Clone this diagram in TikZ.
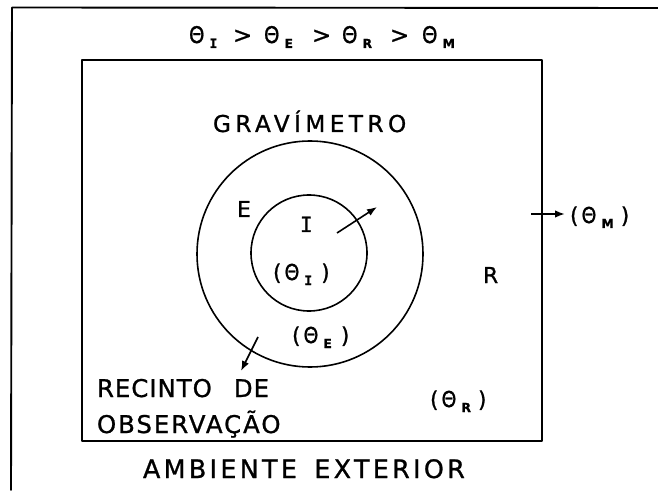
\documentclass[tikz,border=0pt]{standalone}
\usepackage{fontspec}
\setmainfont{DejaVu Sans}
\newfontfamily\lab{DejaVu Sans}[FakeBold=1]
\newfontfamily\monof{DejaVu Sans Mono}[FakeBold=1]
\usetikzlibrary{arrows.meta}
\newcommand\subl[1]{\raisebox{-5bp}{\fontsize{12.5}{12}\selectfont\bfseries #1}}
\newcommand\subI{\raisebox{-5bp}{\fontsize{13}{12}\selectfont\monof\bfseries I}}
\newcommand\thg{\scalebox{0.86}[1]{Θ}}
\newcommand\thx[1]{\thg\kern5bp\subl{#1}}
\newcommand\thxI{\thg\kern5bp\subI}
\tikzset{
  txt/.style={inner sep=0pt, outer sep=0pt, anchor=base west, font=\lab\fontsize{22}{26}\selectfont},
  big/.style={txt, font=\lab\fontsize{24.5}{28}\selectfont},
  frame/.style={line width=1.9bp, line cap=round, line join=round},
  ring/.style={draw, circle, line width=1.6bp, inner sep=0pt},
  arr/.style={line width=1.6bp, -{Latex[length=10bp,width=7.5bp]}}
}
\begin{document}
\begin{tikzpicture}[x=1bp, y=-1bp]
\useasboundingbox (0,0) rectangle (658,492);
% outer frame (open on right and bottom)
\draw[frame] (658,8) -- (12,7.5) -- (11,490);
% recinto
\draw[frame] (82,60) rectangle (542,441);
% circles
\node[ring, minimum size=226bp] (outer) at (310,254) {};
\node[ring, minimum size=116bp] (inner) at (309,253) {};
% texts
\node[txt, font=\lab\fontsize{23}{26}\selectfont] (rel) at (189,43) {\rlap{\thxI}\hspace{44bp}\rlap{>}\hspace{31bp}\rlap{\thx{E}}\hspace{48bp}\rlap{>}\hspace{30bp}\rlap{\thx{R}}\hspace{48bp}\rlap{>}\hspace{32bp}\thx{M}};
\node[big, font=\lab\addfontfeatures{LetterSpace=19}\fontsize{23.3}{28}\selectfont] (grav) at (213,132) {GRAVÍMETRO};
\node[txt] (E) at (237,217) {E};
\node[txt, font=\monof\fontsize{21}{26}\selectfont] (I) at (300,232) {I};
\node[txt] (thI) at (273,280) {(\kern3bp\thxI\kern9bp)};
\node[txt] (thE) at (292,343) {(\kern3bp\thx{E}\kern9bp)};
\node[txt] (R) at (483,283) {R};
\node[txt] (thM) at (570,223) {(\kern3bp\thx{M}\kern7bp)};
\node[txt] (thR) at (430,407) {(\kern3bp\thx{R}\kern7bp)};
\node[big, font=\lab\addfontfeatures{LetterSpace=4}\fontsize{24.5}{28}\selectfont] (rec1) at (97,397) {RECINTO\hspace{22bp}DE};
\node[big, font=\lab\addfontfeatures{LetterSpace=8}\fontsize{24.5}{28}\selectfont] (rec2) at (97,433) {OBSERVAÇÃO};
\node[big, font=\lab\addfontfeatures{LetterSpace=13}\fontsize{25.5}{28}\selectfont] (amb) at (143,478) {AMBIENTE\hspace{6bp} EXTERIOR};
% heat flow arrows
\coordinate (a1s) at (337,233); \coordinate (a1e) at (377,207);
\coordinate (a2s) at (258,337); \coordinate (a2e) at (241,371);
\coordinate (a3s) at (531,214); \coordinate (a3e) at (565,214);
\draw[arr] (a1s) -- (a1e);
\draw[arr] (a2s) -- (a2e);
\draw[arr] (a3s) -- (a3e);
\end{tikzpicture}
\end{document}
